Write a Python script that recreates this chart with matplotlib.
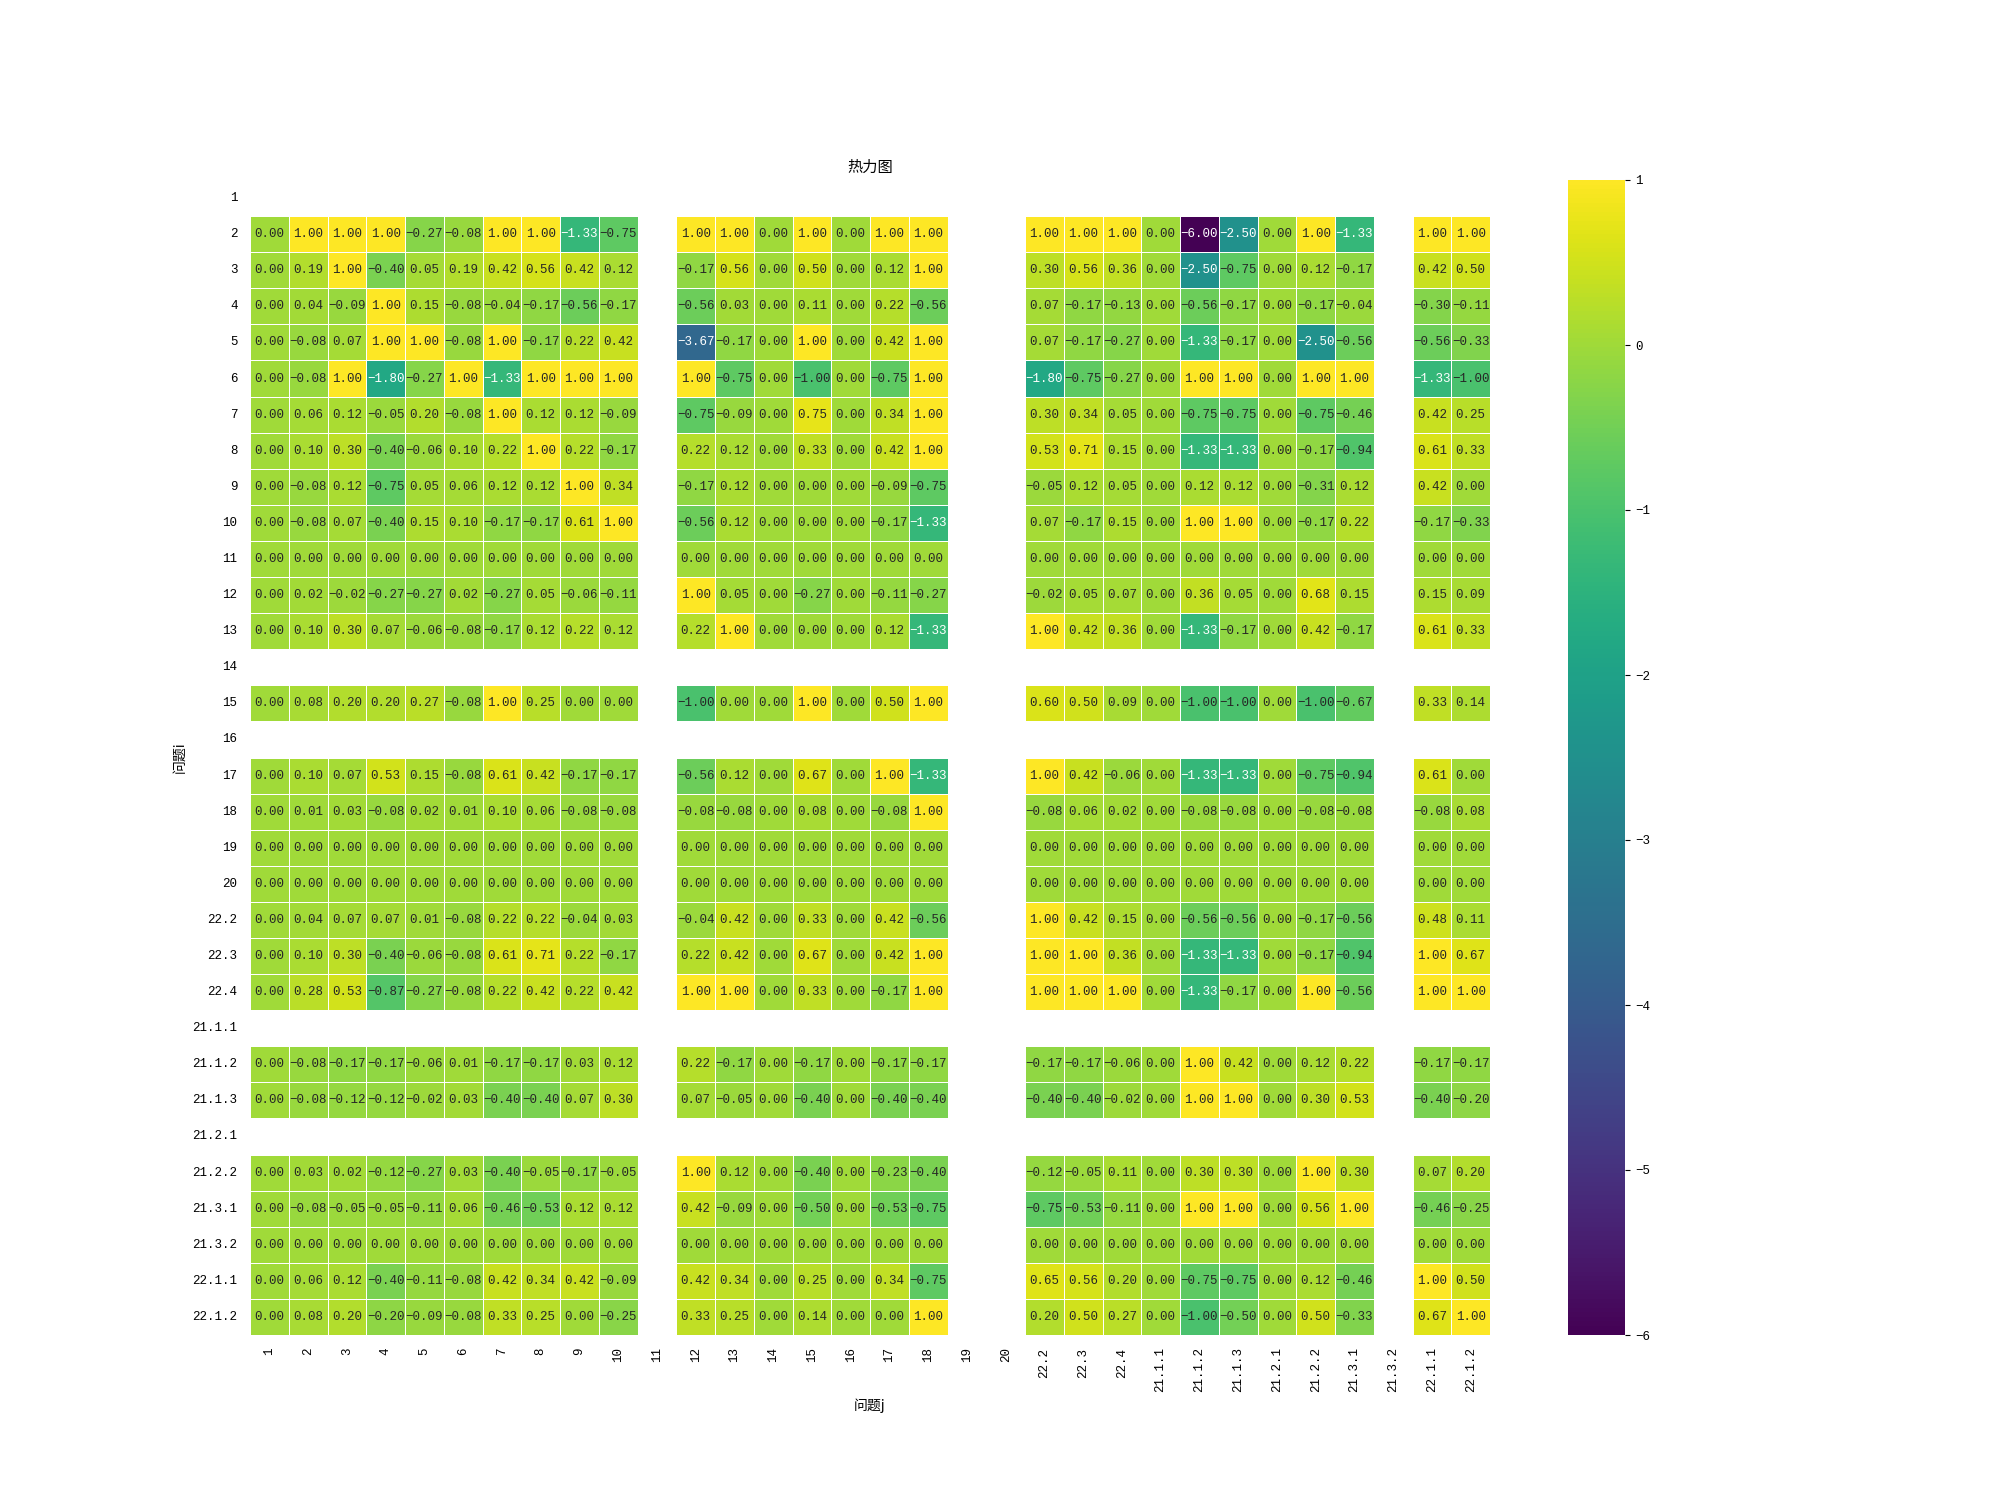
import numpy as np
import pandas as pd
import matplotlib
matplotlib.use('Agg')
import matplotlib.pyplot as plt
import seaborn as sns

nan = np.nan

labels = ['1', '2', '3', '4', '5', '6', '7', '8', '9', '10',
          '11', '12', '13', '14', '15', '16', '17', '18', '19', '20',
          '22.2', '22.3', '22.4', '21.1.1', '21.1.2', '21.1.3',
          '21.2.1', '21.2.2', '21.3.1', '21.3.2', '22.1.1', '22.1.2']

# columns that are empty everywhere
empty_cols = ['11', '19', '20', '21.3.2']

# per row: cols 1-10 | cols 12-18 | cols 22.2..21.3.1 (no 21.3.2) | cols 22.1.1, 22.1.2
rows = {
    '1': None,
    '2': [0.00, 1.00, 1.00, 1.00, -0.27, -0.08, 1.00, 1.00, -1.33, -0.75,
          1.00, 1.00, 0.00, 1.00, 0.00, 1.00, 1.00,
          1.00, 1.00, 1.00, 0.00, -6.00, -2.50, 0.00, 1.00, -1.33,
          1.00, 1.00],
    '3': [0.00, 0.19, 1.00, -0.40, 0.05, 0.19, 0.42, 0.56, 0.42, 0.12,
          -0.17, 0.56, 0.00, 0.50, 0.00, 0.12, 1.00,
          0.30, 0.56, 0.36, 0.00, -2.50, -0.75, 0.00, 0.12, -0.17,
          0.42, 0.50],
    '4': [0.00, 0.04, -0.09, 1.00, 0.15, -0.08, -0.04, -0.17, -0.56, -0.17,
          -0.56, 0.03, 0.00, 0.11, 0.00, 0.22, -0.56,
          0.07, -0.17, -0.13, 0.00, -0.56, -0.17, 0.00, -0.17, -0.04,
          -0.30, -0.11],
    '5': [0.00, -0.08, 0.07, 1.00, 1.00, -0.08, 1.00, -0.17, 0.22, 0.42,
          -3.67, -0.17, 0.00, 1.00, 0.00, 0.42, 1.00,
          0.07, -0.17, -0.27, 0.00, -1.33, -0.17, 0.00, -2.50, -0.56,
          -0.56, -0.33],
    '6': [0.00, -0.08, 1.00, -1.80, -0.27, 1.00, -1.33, 1.00, 1.00, 1.00,
          1.00, -0.75, 0.00, -1.00, 0.00, -0.75, 1.00,
          -1.80, -0.75, -0.27, 0.00, 1.00, 1.00, 0.00, 1.00, 1.00,
          -1.33, -1.00],
    '7': [0.00, 0.06, 0.12, -0.05, 0.20, -0.08, 1.00, 0.12, 0.12, -0.09,
          -0.75, -0.09, 0.00, 0.75, 0.00, 0.34, 1.00,
          0.30, 0.34, 0.05, 0.00, -0.75, -0.75, 0.00, -0.75, -0.46,
          0.42, 0.25],
    '8': [0.00, 0.10, 0.30, -0.40, -0.06, 0.10, 0.22, 1.00, 0.22, -0.17,
          0.22, 0.12, 0.00, 0.33, 0.00, 0.42, 1.00,
          0.53, 0.71, 0.15, 0.00, -1.33, -1.33, 0.00, -0.17, -0.94,
          0.61, 0.33],
    '9': [0.00, -0.08, 0.12, -0.75, 0.05, 0.06, 0.12, 0.12, 1.00, 0.34,
          -0.17, 0.12, 0.00, 0.00, 0.00, -0.09, -0.75,
          -0.05, 0.12, 0.05, 0.00, 0.12, 0.12, 0.00, -0.31, 0.12,
          0.42, 0.00],
    '10': [0.00, -0.08, 0.07, -0.40, 0.15, 0.10, -0.17, -0.17, 0.61, 1.00,
           -0.56, 0.12, 0.00, 0.00, 0.00, -0.17, -1.33,
           0.07, -0.17, 0.15, 0.00, 1.00, 1.00, 0.00, -0.17, 0.22,
           -0.17, -0.33],
    '11': [0.00] * 28,
    '12': [0.00, 0.02, -0.02, -0.27, -0.27, 0.02, -0.27, 0.05, -0.06, -0.11,
           1.00, 0.05, 0.00, -0.27, 0.00, -0.11, -0.27,
           -0.02, 0.05, 0.07, 0.00, 0.36, 0.05, 0.00, 0.68, 0.15,
           0.15, 0.09],
    '13': [0.00, 0.10, 0.30, 0.07, -0.06, -0.08, -0.17, 0.12, 0.22, 0.12,
           0.22, 1.00, 0.00, 0.00, 0.00, 0.12, -1.33,
           1.00, 0.42, 0.36, 0.00, -1.33, -0.17, 0.00, 0.42, -0.17,
           0.61, 0.33],
    '14': None,
    '15': [0.00, 0.08, 0.20, 0.20, 0.27, -0.08, 1.00, 0.25, 0.00, 0.00,
           -1.00, 0.00, 0.00, 1.00, 0.00, 0.50, 1.00,
           0.60, 0.50, 0.09, 0.00, -1.00, -1.00, 0.00, -1.00, -0.67,
           0.33, 0.14],
    '16': None,
    '17': [0.00, 0.10, 0.07, 0.53, 0.15, -0.08, 0.61, 0.42, -0.17, -0.17,
           -0.56, 0.12, 0.00, 0.67, 0.00, 1.00, -1.33,
           1.00, 0.42, -0.06, 0.00, -1.33, -1.33, 0.00, -0.75, -0.94,
           0.61, 0.00],
    '18': [0.00, 0.01, 0.03, -0.08, 0.02, 0.01, 0.10, 0.06, -0.08, -0.08,
           -0.08, -0.08, 0.00, 0.08, 0.00, -0.08, 1.00,
           -0.08, 0.06, 0.02, 0.00, -0.08, -0.08, 0.00, -0.08, -0.08,
           -0.08, 0.08],
    '19': [0.00] * 28,
    '20': [0.00] * 28,
    '22.2': [0.00, 0.04, 0.07, 0.07, 0.01, -0.08, 0.22, 0.22, -0.04, 0.03,
             -0.04, 0.42, 0.00, 0.33, 0.00, 0.42, -0.56,
             1.00, 0.42, 0.15, 0.00, -0.56, -0.56, 0.00, -0.17, -0.56,
             0.48, 0.11],
    '22.3': [0.00, 0.10, 0.30, -0.40, -0.06, -0.08, 0.61, 0.71, 0.22, -0.17,
             0.22, 0.42, 0.00, 0.67, 0.00, 0.42, 1.00,
             1.00, 1.00, 0.36, 0.00, -1.33, -1.33, 0.00, -0.17, -0.94,
             1.00, 0.67],
    '22.4': [0.00, 0.28, 0.53, -0.87, -0.27, -0.08, 0.22, 0.42, 0.22, 0.42,
             1.00, 1.00, 0.00, 0.33, 0.00, -0.17, 1.00,
             1.00, 1.00, 1.00, 0.00, -1.33, -0.17, 0.00, 1.00, -0.56,
             1.00, 1.00],
    '21.1.1': None,
    '21.1.2': [0.00, -0.08, -0.17, -0.17, -0.06, 0.01, -0.17, -0.17, 0.03, 0.12,
               0.22, -0.17, 0.00, -0.17, 0.00, -0.17, -0.17,
               -0.17, -0.17, -0.06, 0.00, 1.00, 0.42, 0.00, 0.12, 0.22,
               -0.17, -0.17],
    '21.1.3': [0.00, -0.08, -0.12, -0.12, -0.02, 0.03, -0.40, -0.40, 0.07, 0.30,
               0.07, -0.05, 0.00, -0.40, 0.00, -0.40, -0.40,
               -0.40, -0.40, -0.02, 0.00, 1.00, 1.00, 0.00, 0.30, 0.53,
               -0.40, -0.20],
    '21.2.1': None,
    '21.2.2': [0.00, 0.03, 0.02, -0.12, -0.27, 0.03, -0.40, -0.05, -0.17, -0.05,
               1.00, 0.12, 0.00, -0.40, 0.00, -0.23, -0.40,
               -0.12, -0.05, 0.11, 0.00, 0.30, 0.30, 0.00, 1.00, 0.30,
               0.07, 0.20],
    '21.3.1': [0.00, -0.08, -0.05, -0.05, -0.11, 0.06, -0.46, -0.53, 0.12, 0.12,
               0.42, -0.09, 0.00, -0.50, 0.00, -0.53, -0.75,
               -0.75, -0.53, -0.11, 0.00, 1.00, 1.00, 0.00, 0.56, 1.00,
               -0.46, -0.25],
    '21.3.2': [0.00] * 28,
    '22.1.1': [0.00, 0.06, 0.12, -0.40, -0.11, -0.08, 0.42, 0.34, 0.42, -0.09,
               0.42, 0.34, 0.00, 0.25, 0.00, 0.34, -0.75,
               0.65, 0.56, 0.20, 0.00, -0.75, -0.75, 0.00, 0.12, -0.46,
               1.00, 0.50],
    '22.1.2': [0.00, 0.08, 0.20, -0.20, -0.09, -0.08, 0.33, 0.25, 0.00, -0.25,
               0.33, 0.25, 0.00, 0.14, 0.00, 0.00, 1.00,
               0.20, 0.50, 0.27, 0.00, -1.00, -0.50, 0.00, 0.50, -0.33,
               0.67, 1.00],
}


def build_matrix():
    filled = [c for c in labels if c not in empty_cols]
    df = pd.DataFrame(nan, index=labels, columns=labels)
    for name, vals in rows.items():
        if vals is None:
            continue
        df.loc[name, filled] = vals
    return df


def cell_text(v):
    """Two decimals with a real minus sign, like the original."""
    if np.isnan(v):
        return ''
    return '{:.2f}'.format(v).replace('-', '\u2212')


def plot():
    plt.rcParams['font.family'] = ['Liberation Mono', 'Noto Sans CJK SC', 'DejaVu Sans']
    plt.rcParams['axes.unicode_minus'] = True
    df = build_matrix()
    texts = np.vectorize(cell_text)(df.values)

    fig, ax = plt.subplots(figsize=(20, 15), dpi=100)
    sns.heatmap(df, ax=ax, cmap='viridis', annot=texts, fmt='',
                linewidths=0.5, linecolor='white', vmin=-6, vmax=1,
                annot_kws={'fontsize': 9})
    ax.set_title('热力图', fontsize=11, family=['Noto Sans CJK SC'])
    ax.set_xlabel('问题j', fontsize=10, family=['Noto Sans CJK SC', 'DejaVu Sans'])
    ax.set_ylabel('问题i', fontsize=10, family=['Noto Sans CJK SC', 'DejaVu Sans'])
    ax.set_xticklabels(labels, rotation=90, fontsize=9)
    ax.set_yticklabels(labels, rotation=0, fontsize=9)
    ax.tick_params(length=0, pad=9)

    cbar = ax.collections[0].colorbar
    cbar.ax.tick_params(labelsize=9)
    return fig


if __name__ == '__main__':
    fig = plot()
    fig.savefig('out.png', dpi=100)
